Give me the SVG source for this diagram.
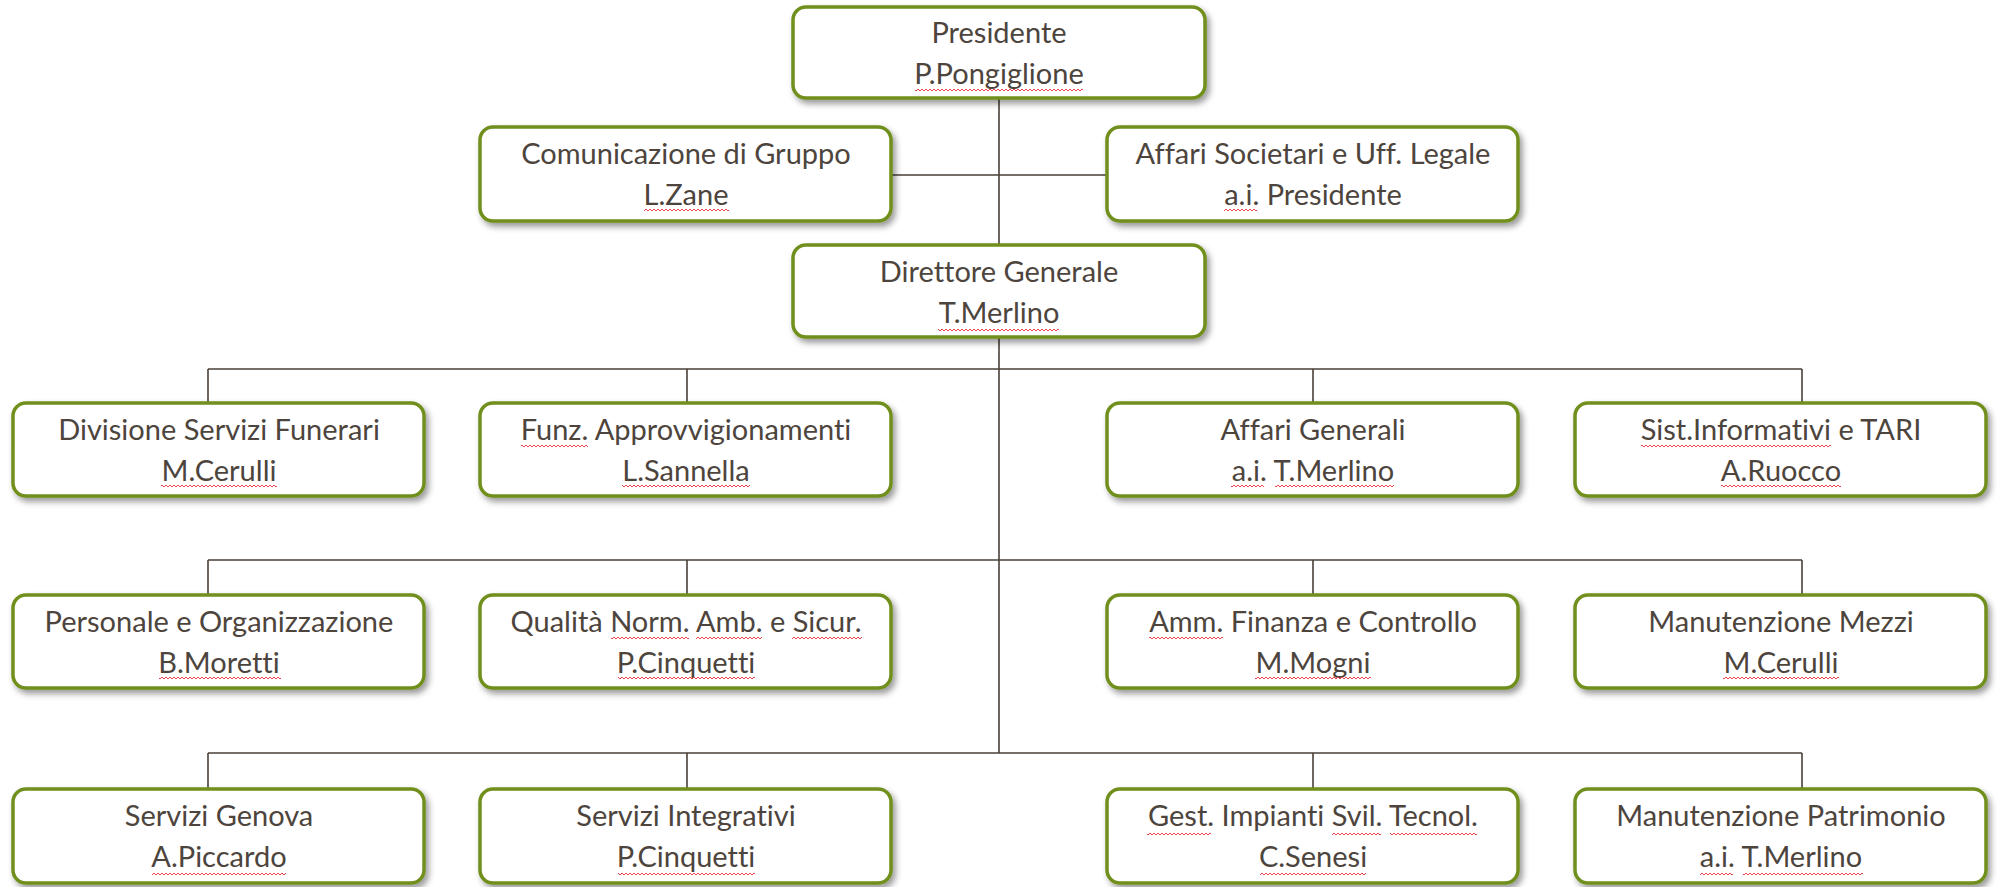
<svg xmlns="http://www.w3.org/2000/svg" width="1997" height="887" viewBox="0 0 1997 887">
<defs>
<filter id="sh" x="-10%" y="-20%" width="125%" height="150%">
<feDropShadow dx="3" dy="4" stdDeviation="3" flood-color="#000" flood-opacity="0.4"/>
</filter>
<pattern id="wave" width="4" height="4" patternUnits="userSpaceOnUse">
<path d="M0 3L2 1L4 3" fill="none" stroke="#e8434c" stroke-width="1"/>
</pattern>
<style>
.box{fill:#fff;stroke:#6f8f1a;stroke-width:3.5;filter:url(#sh)}
.t{font-family:Lato,"Open Sans","Liberation Sans",sans-serif;font-size:29px;fill:#4d453d;text-anchor:middle;font-variant-ligatures:none}
.w{fill:url(#wave)}
.c{stroke:#4a4038;stroke-width:1.6;fill:none}
</style>
</defs>
<rect width="1997" height="887" fill="#fff"/>
<g id="connectors">
<path class="c" d="M999 98V753M891 175H1107M208 369H1802M208 369V403M687 369V403M1313 369V403M1802 369V403M208 560H1802M208 560V595M687 560V595M1313 560V595M1802 560V595M208 753H1802M208 753V789M687 753V789M1313 753V789M1802 753V789"/>
</g>
<g id="presidente"><rect class="box" x="793" y="7" width="412" height="91" rx="13"/><text class="t" x="999" y="43">Presidente</text><text class="t" x="999" y="84">P.Pongiglione</text><rect class="w" x="915" y="88" width="168" height="4"/></g>
<g id="comunicazione"><rect class="box" x="480" y="127" width="411" height="94" rx="13"/><text class="t" x="686" y="164">Comunicazione di Gruppo</text><text class="t" x="686" y="205">L.Zane</text><rect class="w" x="644" y="208" width="85" height="4"/></g>
<g id="affari-societari"><rect class="box" x="1107" y="127" width="411" height="94" rx="13"/><text class="t" x="1313" y="164">Affari Societari e Uff. Legale</text><text class="t" x="1313" y="205">a.i. Presidente</text><rect class="w" x="1224" y="208" width="33" height="4"/></g>
<g id="direttore"><rect class="box" x="793" y="245" width="412" height="92" rx="13"/><text class="t" x="999" y="282">Direttore Generale</text><text class="t" x="999" y="323">T.Merlino</text><rect class="w" x="938" y="328" width="121" height="4"/></g>
<g id="servizi-funerari"><rect class="box" x="13" y="403" width="411" height="93" rx="13"/><text class="t" x="219" y="440">Divisione Servizi Funerari</text><text class="t" x="219" y="481">M.Cerulli</text><rect class="w" x="161" y="484" width="116" height="4"/></g>
<g id="approvvigionamenti"><rect class="box" x="480" y="403" width="411" height="93" rx="13"/><text class="t" x="686" y="440">Funz. Approvvigionamenti</text><text class="t" x="686" y="481">L.Sannella</text><rect class="w" x="521" y="444" width="67" height="4"/><rect class="w" x="622" y="484" width="128" height="4"/></g>
<g id="affari-generali"><rect class="box" x="1107" y="403" width="411" height="93" rx="13"/><text class="t" x="1313" y="440">Affari Generali</text><text class="t" x="1313" y="481">a.i. T.Merlino</text><rect class="w" x="1231" y="484" width="33" height="4"/><rect class="w" x="1275" y="484" width="119" height="4"/></g>
<g id="sistemi-informativi"><rect class="box" x="1575" y="403" width="411" height="93" rx="13"/><text class="t" x="1781" y="440">Sist.Informativi e TARI</text><text class="t" x="1781" y="481">A.Ruocco</text><rect class="w" x="1641" y="444" width="190" height="4"/><rect class="w" x="1721" y="484" width="120" height="4"/></g>
<g id="personale"><rect class="box" x="13" y="595" width="411" height="93" rx="13"/><text class="t" x="219" y="632">Personale e Organizzazione</text><text class="t" x="219" y="673">B.Moretti</text><rect class="w" x="159" y="676" width="122" height="4"/></g>
<g id="qualita"><rect class="box" x="480" y="595" width="411" height="93" rx="13"/><text class="t" x="686" y="632">Qualità Norm. Amb. e Sicur.</text><text class="t" x="686" y="673">P.Cinquetti</text><rect class="w" x="611" y="636" width="78" height="4"/><rect class="w" x="696" y="636" width="66" height="4"/><rect class="w" x="792" y="636" width="70" height="4"/><rect class="w" x="618" y="676" width="137" height="4"/></g>
<g id="finanza"><rect class="box" x="1107" y="595" width="411" height="93" rx="13"/><text class="t" x="1313" y="632">Amm. Finanza e Controllo</text><text class="t" x="1313" y="673">M.Mogni</text><rect class="w" x="1149" y="636" width="74" height="4"/><rect class="w" x="1255" y="676" width="116" height="4"/></g>
<g id="manutenzione-mezzi"><rect class="box" x="1575" y="595" width="411" height="93" rx="13"/><text class="t" x="1781" y="632">Manutenzione Mezzi</text><text class="t" x="1781" y="673">M.Cerulli</text><rect class="w" x="1723" y="676" width="116" height="4"/></g>
<g id="servizi-genova"><rect class="box" x="13" y="789" width="411" height="94" rx="13"/><text class="t" x="219" y="826">Servizi Genova</text><text class="t" x="219" y="867">A.Piccardo</text><rect class="w" x="152" y="872" width="134" height="4"/></g>
<g id="servizi-integrativi"><rect class="box" x="480" y="789" width="411" height="94" rx="13"/><text class="t" x="686" y="826">Servizi Integrativi</text><text class="t" x="686" y="867">P.Cinquetti</text><rect class="w" x="618" y="872" width="137" height="4"/></g>
<g id="impianti"><rect class="box" x="1107" y="789" width="411" height="94" rx="13"/><text class="t" x="1313" y="826">Gest. Impianti Svil. Tecnol.</text><text class="t" x="1313" y="867">C.Senesi</text><rect class="w" x="1147" y="832" width="64" height="4"/><rect class="w" x="1332" y="832" width="49" height="4"/><rect class="w" x="1390" y="832" width="87" height="4"/><rect class="w" x="1260" y="872" width="106" height="4"/></g>
<g id="manutenzione-patrimonio"><rect class="box" x="1575" y="789" width="411" height="94" rx="13"/><text class="t" x="1781" y="826">Manutenzione Patrimonio</text><text class="t" x="1781" y="867">a.i. T.Merlino</text><rect class="w" x="1700" y="872" width="33" height="4"/><rect class="w" x="1743" y="872" width="120" height="4"/></g>
</svg>
